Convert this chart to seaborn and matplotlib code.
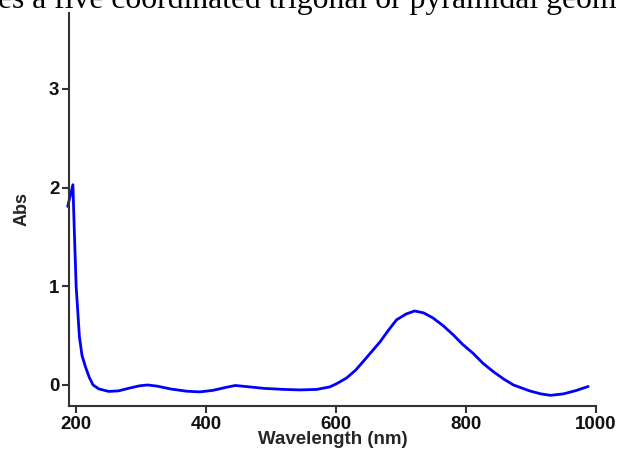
import matplotlib
matplotlib.use("Agg")
import matplotlib.pyplot as plt
import seaborn as sns
import pandas as pd

wavelength = [187, 191, 195, 197, 200, 205, 209, 214, 220, 226, 235, 250, 265, 280,
              298, 310, 325, 345, 370, 390, 410, 430, 445, 460, 490, 520, 545, 570,
              590, 600, 616, 630, 642, 655, 668, 680, 693, 708, 721, 735, 749, 765,
              780, 795, 811, 826, 842, 858, 873, 898, 915, 930, 950, 970, 988]
absorbance = [1.81, 1.92, 2.03, 1.6, 1.0, 0.49, 0.3, 0.19, 0.08, 0.0, -0.04, -0.065, -0.06, -0.035,
              -0.008, 0.0, -0.012, -0.04, -0.063, -0.07, -0.055, -0.025, -0.005, -0.015, -0.035, -0.045, -0.05, -0.045,
              -0.02, 0.01, 0.07, 0.15, 0.24, 0.34, 0.44, 0.55, 0.66, 0.72, 0.75, 0.73, 0.68, 0.6,
              0.51, 0.41, 0.32, 0.22, 0.135, 0.06, 0.0, -0.06, -0.09, -0.105, -0.09, -0.055, -0.015]
x_ticks = [200, 400, 600, 800, 1000]
y_ticks = [0, 1, 2, 3]
header_text = "es a five coordinated trigonal or pyramidal geom"

sns.set_style("ticks")
plt.rcParams['font.family'] = ['Liberation Sans', 'DejaVu Sans']

df = pd.DataFrame({"Wavelength (nm)": wavelength, "Abs": absorbance})

fig = plt.figure(figsize=(6.18, 4.53), dpi=100)
ax = fig.add_axes([69/618, 1 - 406/453, (596 - 69)/618, (406 - 13)/453])

sns.lineplot(data=df, x="Wavelength (nm)", y="Abs", ax=ax, color="#0000FF",
             linewidth=2.0, sort=False, clip_on=False)

ax.set_xlim(189, 1000)
ax.set_ylim(-0.213, 3.77)
ax.set_xticks(x_ticks)
ax.set_yticks(y_ticks)
ax.set_xticklabels([str(t) for t in x_ticks], fontsize=13.5, fontweight="bold")
ax.set_yticklabels([str(t) for t in y_ticks], fontsize=13.5, fontweight="bold")
ax.set_xlabel("Wavelength (nm)", fontsize=13.5, fontweight="bold", labelpad=-1)
ax.set_ylabel("Abs", fontsize=13, fontweight="bold", labelpad=13)

for side in ["top", "right"]:
    ax.spines[side].set_visible(False)
for side in ["left", "bottom"]:
    ax.spines[side].set_color("#333333")
    ax.spines[side].set_linewidth(1.5)
ax.tick_params(axis="both", direction="out", length=5, width=1.5, color="#333333",
               pad=2, labelcolor="#111111")

fig.text(-2/618, 1 - 8/453, header_text, family=["Liberation Serif"], fontsize=22.8,
         ha="left", va="baseline", color="black")

fig.savefig("out.png", dpi=100)
